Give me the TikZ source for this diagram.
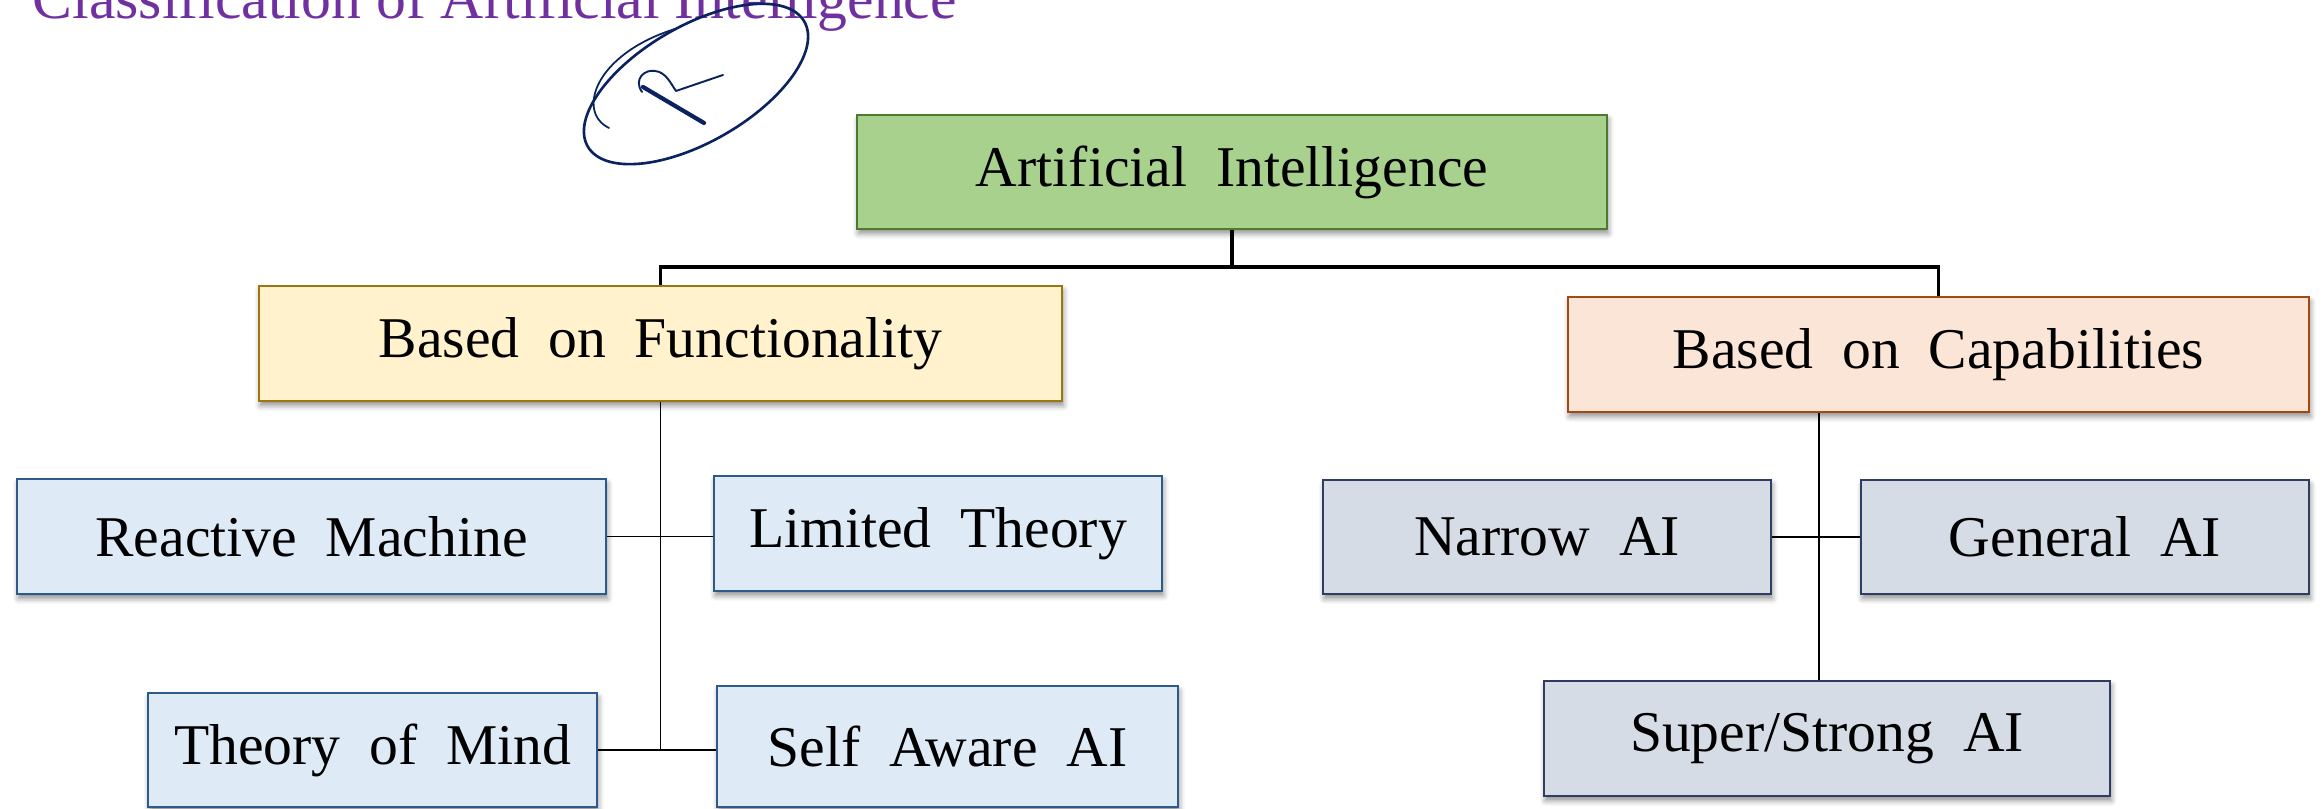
\documentclass[tikz,border=0pt]{standalone}
\usepackage{fontspec}
\setmainfont{Liberation Serif}
\usetikzlibrary{shadows.blur}
\definecolor{aigreen}{HTML}{A9D18E}
\definecolor{aigreenline}{HTML}{4E7A30}
\definecolor{funcyellow}{HTML}{FFF2CC}
\definecolor{funcline}{HTML}{9C7612}
\definecolor{capabpeach}{HTML}{FBE5D6}
\definecolor{capabline}{HTML}{A24A12}
\definecolor{leafblue}{HTML}{DEEBF7}
\definecolor{leafblueline}{HTML}{2E5A8A}
\definecolor{leafgrey}{HTML}{D6DCE5}
\definecolor{leafgreyline}{HTML}{2F3D62}
\definecolor{titlepurple}{HTML}{7030A0}
\definecolor{inknavy}{HTML}{0B2260}
\tikzstyle{box}=[rectangle, inner sep=0pt, line width=0.7pt, anchor=center, font=\fontsize{16.4}{20}\selectfont,
  blur shadow={shadow xshift=0.4pt, shadow yshift=-1.3pt, shadow blur radius=1.6pt, shadow opacity=45}]
\tikzstyle{root}=[box, fill=aigreen, draw=aigreenline]
\tikzstyle{funcbox}=[box, fill=funcyellow, draw=funcline]
\tikzstyle{capabbox}=[box, fill=capabpeach, draw=capabline]
\tikzstyle{blueleaf}=[box, fill=leafblue, draw=leafblueline]
\tikzstyle{greyleaf}=[box, fill=leafgrey, draw=leafgreyline]
\tikzstyle{trunk}=[line width=0.9pt, black]
\tikzstyle{twig}=[line width=0.45pt, black]
\tikzstyle{ink}=[inknavy, line width=0.75pt, line cap=round, line join=round]

\begin{document}
\begin{tikzpicture}
	\useasboundingbox (0,0) rectangle (23.23,8.09);
	\clip (0,0) rectangle (23.23,8.09);

	\node[anchor=base west, inner sep=0pt, text=titlepurple, font=\fontsize{17}{20}\selectfont] (title) at (0.32,7.90) {Classification of Artificial Intelligence};

	% handwritten mark
	\draw[ink, rotate around={30:(6.96,7.25)}] (6.96,7.25) ellipse [x radius=1.25, y radius=0.58];
	\draw[ink, line width=0.5pt] (6.09,6.81) .. controls (5.76,6.97) and (5.95,7.55) .. (6.75,7.80);
	\draw[ink, line width=0.55pt] (6.42,7.17) .. controls (6.33,7.30) and (6.45,7.40) .. (6.55,7.38) .. controls (6.66,7.37) and (6.71,7.25) .. (6.76,7.18) -- (7.23,7.34);
	\draw[ink, line width=1.2pt] (6.43,7.22) -- (7.04,6.86);

	\node[root, minimum width=7.50cm, minimum height=1.14cm] (ai) at (12.32,6.37) {Artificial\ \ Intelligence};

	\node[funcbox, minimum width=8.03cm, minimum height=1.15cm] (func) at (6.605,4.655) {Based\ \ on\ \ Functionality};
	\node[capabbox, minimum width=7.41cm, minimum height=1.15cm] (capab) at (19.385,4.545) {Based\ \ on\ \ Capabilities};

	\node[blueleaf, minimum width=5.89cm, minimum height=1.15cm] (reactive) at (3.115,2.725) {Reactive\ \ Machine};
	\node[blueleaf, minimum width=4.48cm, minimum height=1.15cm] (limited) at (9.38,2.755) {Limited\ \ Theory};
	\node[blueleaf, minimum width=4.49cm, minimum height=1.14cm] (mind) at (3.725,0.59) {Theory\ \ of\ \ Mind};
	\node[blueleaf, minimum width=4.61cm, minimum height=1.21cm] (selfaware) at (9.475,0.625) {Self\ \ Aware\ \ AI};

	\node[greyleaf, minimum width=4.48cm, minimum height=1.14cm] (narrow) at (15.47,2.72) {Narrow\ \ AI};
	\node[greyleaf, minimum width=4.48cm, minimum height=1.14cm] (general) at (20.85,2.72) {General\ \ AI};
	\node[greyleaf, minimum width=5.66cm, minimum height=1.15cm] (super) at (18.27,0.705) {Super/Strong\ \ AI};

	% top level
	\coordinate (split) at (12.32,5.42);
	\draw[trunk, line width=1.2pt] (ai.south) -- (split);
	\draw[trunk] (func.north) |- (split) -| (capab.north);

	% functionality branch
	\draw[twig] (func.south) -- (func.south |- mind.east);
	\draw[twig] (reactive.east) -- (limited.west |- reactive.east);
	\draw[twig] (mind.east) -- (selfaware.west |- mind.east);

	% capabilities branch
	\draw[twig] ([xshift=-1.195cm]capab.south) -- ([xshift=-1.195cm]capab.south |- super.north);
	\draw[twig] (narrow.east) -- (general.west);
\end{tikzpicture}
\end{document}
